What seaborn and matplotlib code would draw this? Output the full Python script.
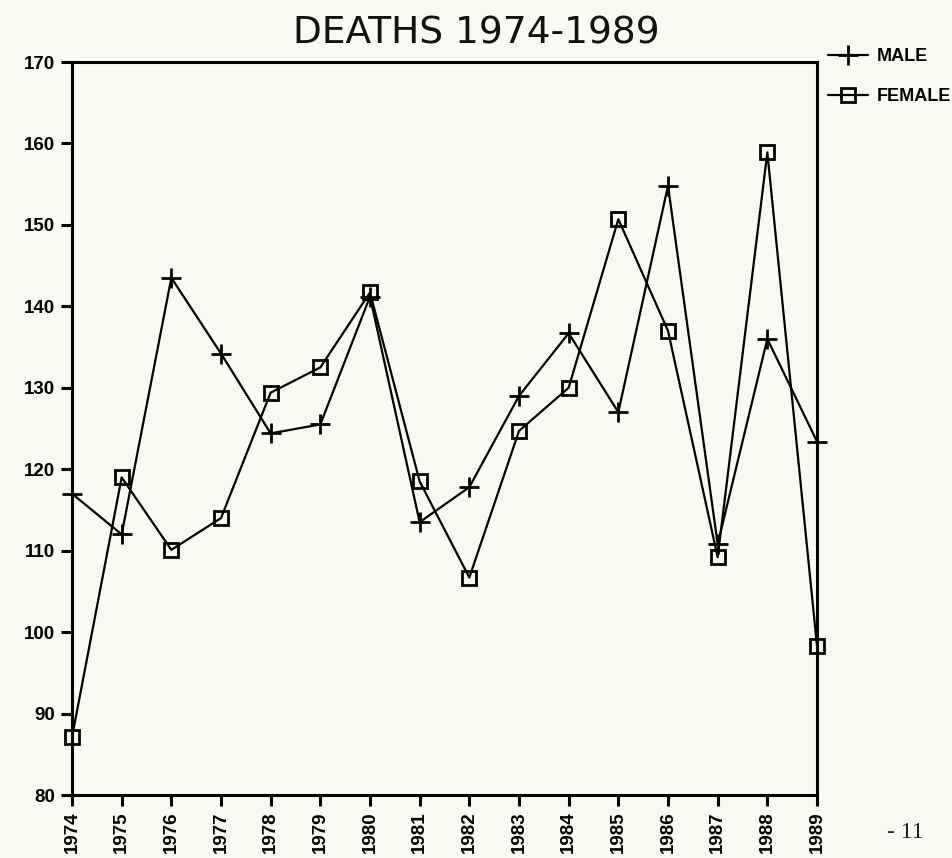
import numpy as np
import pandas as pd
import matplotlib
matplotlib.use("Agg")
import matplotlib.pyplot as plt
import seaborn as sns

years = list(range(1974, 1990))
male = [117, 112, 143.5, 134.2, 124.4, 125.5, 141.2, 113.5, 117.8, 129, 136.7, 127, 154.8, 110.8, 136, 123.4]
female = [87.1, 119, 110.1, 114, 129.4, 132.5, 141.7, 118.5, 106.7, 124.7, 130, 150.7, 137, 109.2, 158.9, 98.3]
yticks = [80, 90, 100, 110, 120, 130, 140, 150, 160, 170]
title = "DEATHS 1974-1989"

df = pd.DataFrame({
    "year": years * 2,
    "deaths": male + female,
    "sex": ["MALE"] * len(years) + ["FEMALE"] * len(years),
})

sns.set_theme(style="white")
plt.rcParams["font.family"] = ["Liberation Sans", "DejaVu Sans"]
bg = "#f9f8f1"

fig = plt.figure(figsize=(9.53, 8.58), dpi=100, facecolor=bg)
ax = fig.add_axes([72 / 953, 1 - 795 / 858, (817 - 72) / 953, (795 - 62) / 858])
ax.set_facecolor(bg)

sns.lineplot(data=df[df.sex == "MALE"], x="year", y="deaths", ax=ax,
             color="black", linewidth=1.6, marker="+", markersize=14,
             markeredgewidth=2.0, markeredgecolor="black",
             label="MALE", legend=False, clip_on=False)
sns.lineplot(data=df[df.sex == "FEMALE"], x="year", y="deaths", ax=ax,
             color="black", linewidth=1.6, marker="s", markersize=9.5,
             markeredgewidth=2.0, markerfacecolor="none", markeredgecolor="black",
             label="FEMALE", legend=False, clip_on=False)

ax.set_xlim(1974, 1989)
ax.set_ylim(80, 170)
ax.set_xticks(years)
ax.set_xticklabels([str(y) for y in years], rotation=90, fontsize=13.5, fontweight="bold")
ax.set_yticks(yticks)
ax.set_yticklabels([str(v) for v in yticks], fontsize=13.5, fontweight="bold")
ax.set_xlabel("")
ax.set_ylabel("")
for s in ax.spines.values():
    s.set_visible(True)
    s.set_color("black")
    s.set_linewidth(2.2)
ax.tick_params(axis="both", which="major", direction="out", length=8, width=2.2,
               color="black", labelcolor="black", pad=4,
               bottom=True, left=True, top=False, right=False)

handles, labels = ax.get_legend_handles_labels()
leg = fig.legend(handles, labels, loc="upper left",
                 bbox_to_anchor=(812 / 953, 1 - 32 / 858), frameon=False,
                 handlelength=2.2, handletextpad=0.5, labelspacing=1.25,
                 labelcolor="black",
                 prop={"weight": "bold", "size": 13})

fig.text(476 / 953, 1 - 33 / 858, title, ha="center", va="center",
         fontsize=27, family="DejaVu Sans", color="#111111")
fig.text(905 / 953, 1 - 833 / 858, "- 11", ha="center", va="center",
         fontsize=17, family="Liberation Serif", color="#222222")

fig.savefig("out.png", dpi=100, facecolor=bg)
